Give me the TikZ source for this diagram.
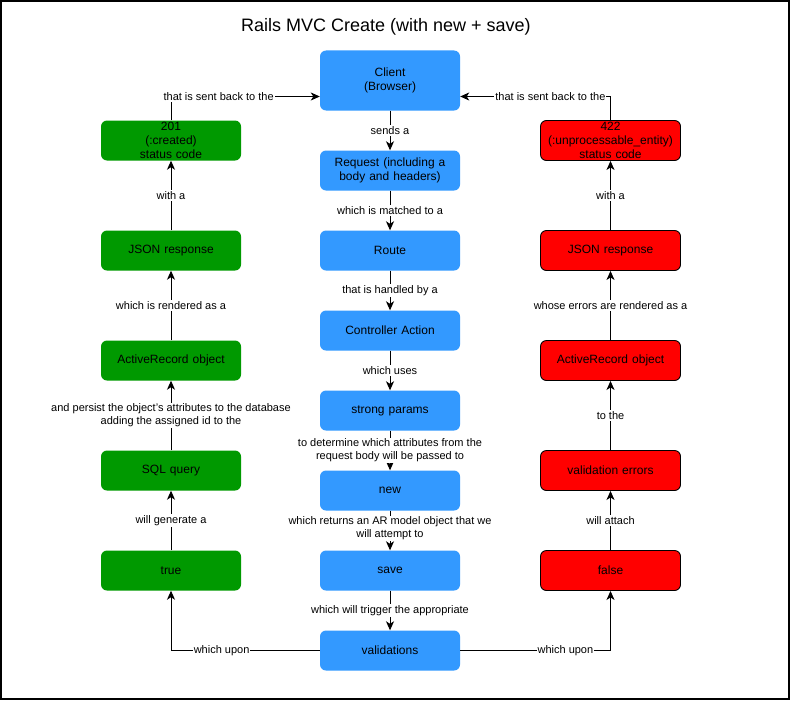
\documentclass[tikz,border=0pt]{standalone}
\usepackage{fontspec}
\setmainfont{Liberation Sans}
\usetikzlibrary{arrows.meta}
\definecolor{blueBox}{HTML}{3399FF}
\definecolor{greenBox}{HTML}{009900}
\definecolor{redBox}{HTML}{FF0000}
\begin{document}
\begin{tikzpicture}[x=1pt,y=-1pt,
  box/.style={rounded corners=6pt, minimum width=140pt, minimum height=40pt,
    inner sep=1pt, align=center, text width=136pt,
    font=\fontsize{12}{14}\selectfont},
  bluebox/.style={box, fill=blueBox},
  greenbox/.style={box, fill=greenBox},
  redbox/.style={box, fill=redBox, draw=black, line width=0.9pt},
  flow/.style={draw, line width=1pt, -{Stealth[length=9pt,width=8pt,inset=2.5pt]}},
  lbl/.style={fill=white, inner sep=1pt, align=center, text=black,
    font=\fontsize{11}{13}\selectfont}
]
\useasboundingbox (0,0) rectangle (791,701);
\draw[line width=1.5pt] (1,1) rectangle (789,699);

% title
\node (title) at (386,27) {\fontsize{18}{22}\selectfont Rails MVC Create (with new + save)};

% main column
\node[bluebox, minimum height=60pt] (client) at (390,80.5) {Client\\(Browser)};
\node[bluebox] (request) at (390,170.5) {Request (including a\\body and headers)};
\node[bluebox] (route) at (390,250.5) {Route};
\node[bluebox] (action) at (390,330.5) {Controller Action};
\node[bluebox] (params) at (390,410.5) {strong params};
\node[bluebox] (new) at (390,490.5) {new};
\node[bluebox] (save) at (390,570.5) {save};
\node[bluebox] (valid) at (390,650.5) {validations};

% success column
\node[greenbox] (created) at (171,140.5) {201\\(:created)\\status code};
\node[greenbox] (gjson) at (171,250.5) {JSON response};
\node[greenbox] (gar) at (171,360.5) {ActiveRecord object};
\node[greenbox] (sql) at (171,470.5) {SQL query};
\node[greenbox] (true) at (171,570.5) {true};

% failure column
\node[redbox] (unproc) at (610.5,140.5) {422\\(:unprocessable\_entity)\\status code};
\node[redbox] (rjson) at (610.5,250.5) {JSON response};
\node[redbox] (rar) at (610.5,360.5) {ActiveRecord object};
\node[redbox] (errors) at (610.5,470.5) {validation errors};
\node[redbox] (false) at (610.5,570.5) {false};

% main flow
\draw[flow] (client) -- node[lbl] {sends a} (request);
\draw[flow] (request) -- node[lbl] {which is matched to a} (route);
\draw[flow] (route) -- node[lbl] {that is handled by a} (action);
\draw[flow] (action) -- node[lbl] {which uses} (params);
\draw[flow] (params) -- node[lbl] {to determine which attributes from the\\request body will be passed to} (new);
\draw[flow] (new) -- node[lbl, yshift=2pt] {which returns an AR model object that we\\will attempt to} (save);
\draw[flow] (save) -- node[lbl] {which will trigger the appropriate} (valid);

% branches
\draw[flow] (valid.west) -| node[lbl, pos=0.33] {which upon} (true.south);
\draw[flow] (valid.east) -| node[lbl, pos=0.35] {which upon} (false.south);

% success path
\draw[flow] (true) -- node[lbl] {will generate a} (sql);
\draw[flow] (sql) -- node[lbl] {and persist the object's attributes to the database\\adding the assigned id to the} (gar);
\draw[flow] (gar) -- node[lbl] {which is rendered as a} (gjson);
\draw[flow] (gjson) -- node[lbl] {with a} (created);
\draw[flow] (created.north) |- node[lbl, pos=0.66] {that is sent back to the} ([yshift=-16pt]client.west);

% failure path
\draw[flow] (false) -- node[lbl] {will attach} (errors);
\draw[flow] (errors) -- node[lbl] {to the} (rar);
\draw[flow] (rar) -- node[lbl] {whose errors are rendered as a} (rjson);
\draw[flow] (rjson) -- node[lbl] {with a} (unproc);
\draw[flow] (unproc.north) |- node[lbl, pos=0.7] {that is sent back to the} ([yshift=-16pt]client.east);
\end{tikzpicture}
\end{document}
